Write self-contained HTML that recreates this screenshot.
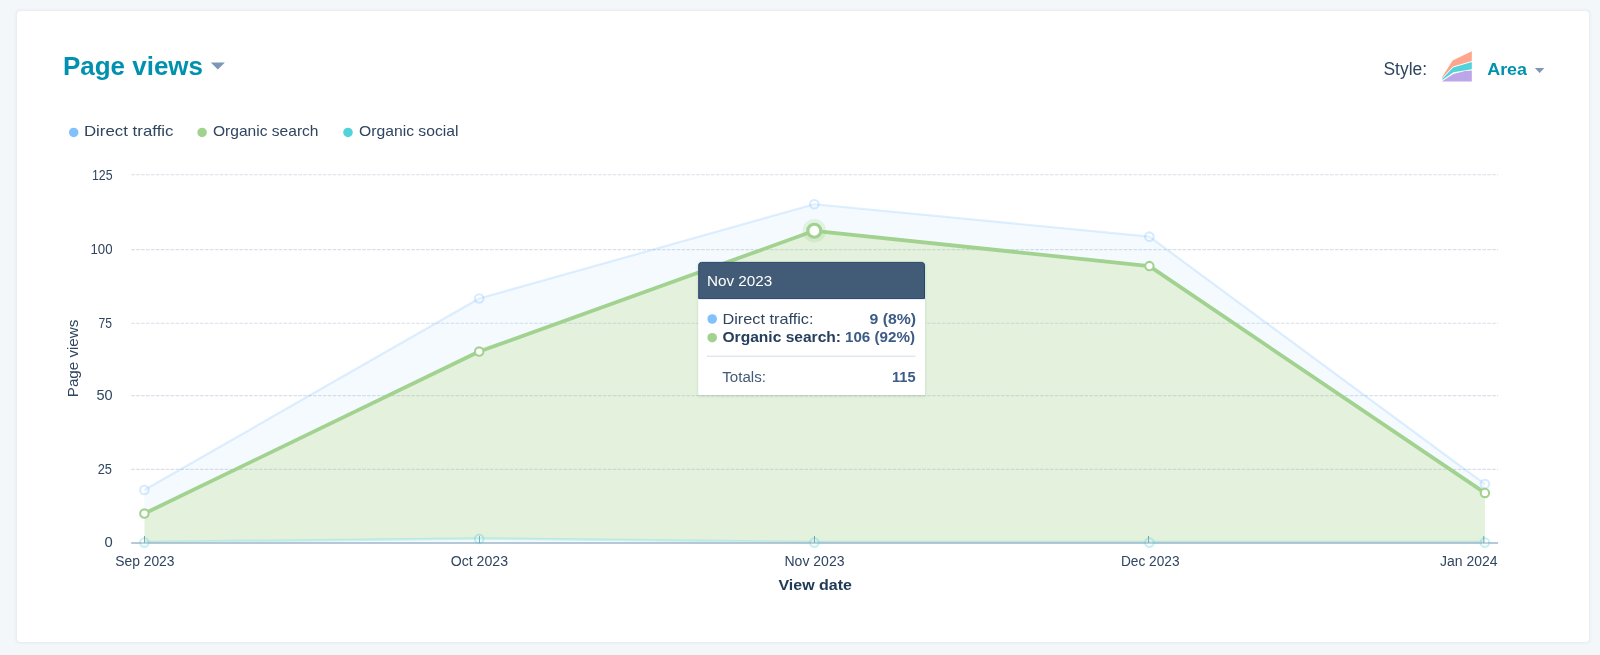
<!DOCTYPE html>
<html><head><meta charset="utf-8"><title>Page views</title>
<style>
html,body{margin:0;padding:0;width:1600px;height:655px;overflow:hidden;background:#f3f7fa;font-family:"Liberation Sans", sans-serif;}
.card{position:absolute;left:17px;top:10.5px;width:1572.2px;height:631.4px;background:#fff;border-radius:3.5px;box-shadow:0 0 3px 0.5px rgba(45,62,80,0.075);}
svg{position:absolute;left:0;top:0;will-change:transform;}
svg text{font-family:"Liberation Sans", sans-serif;}
</style></head><body>
<div class="card"></div>
<svg width="1600" height="655" viewBox="0 0 1600 655">
<defs><filter id="sh" x="-10%" y="-10%" width="120%" height="120%"><feDropShadow dx="0" dy="1" stdDeviation="1.6" flood-color="#2d3e50" flood-opacity="0.16"/></filter></defs>
<line x1="131.26" y1="174.8" x2="1498.1" y2="174.8" stroke="#d9e0e9" stroke-width="1.1" stroke-dasharray="3.63 1.283"/>
<line x1="131.26" y1="249.6" x2="1498.1" y2="249.6" stroke="#d9e0e9" stroke-width="1.1" stroke-dasharray="3.63 1.283"/>
<line x1="131.26" y1="323.2" x2="1498.1" y2="323.2" stroke="#d9e0e9" stroke-width="1.1" stroke-dasharray="3.63 1.283"/>
<line x1="131.26" y1="395.6" x2="1498.1" y2="395.6" stroke="#d9e0e9" stroke-width="1.1" stroke-dasharray="3.63 1.283"/>
<line x1="131.26" y1="469.4" x2="1498.1" y2="469.4" stroke="#d9e0e9" stroke-width="1.1" stroke-dasharray="3.63 1.283"/>
<polygon points="144.40,542.10 479.20,538.42 814.30,542.10 1149.40,542.10 1484.90,542.10 1484.90,543.00 1149.40,543.00 814.30,543.00 479.20,543.00 144.40,543.00" fill="#51d3d9" fill-opacity="0.081"/>
<polygon points="144.40,513.54 479.20,351.54 814.30,230.77 1149.40,266.11 1484.90,492.92 1484.90,542.10 1149.40,542.10 814.30,542.10 479.20,538.42 144.40,542.10" fill="#a2d28f" fill-opacity="0.3"/>
<polygon points="144.40,489.98 479.20,298.52 814.30,204.26 1149.40,236.66 1484.90,484.09 1484.90,492.92 1149.40,266.11 814.30,230.77 479.20,351.54 144.40,513.54" fill="#81c1fd" fill-opacity="0.081"/>
<polyline points="144.40,489.98 479.20,298.52 814.30,204.26 1149.40,236.66 1484.90,484.09" fill="none" stroke="#81c1fd" stroke-opacity="0.25" stroke-width="2.2" stroke-linejoin="round"/>
<polyline points="144.40,542.10 479.20,538.42 814.30,542.10 1149.40,542.10 1484.90,542.10" fill="none" stroke="#51d3d9" stroke-opacity="0.27" stroke-width="2.5" stroke-linejoin="round"/>
<polyline points="144.40,513.54 479.20,351.54 814.30,230.77 1149.40,266.11 1484.90,492.92" fill="none" stroke="#a2d28f" stroke-width="3.75" stroke-linejoin="round" stroke-linecap="round"/>
<line x1="131.2" y1="543.0" x2="1498.1" y2="543.0" stroke="#a2b5ca" stroke-width="1.3"/>
<line x1="144.50" y1="536.1" x2="144.50" y2="543" stroke="#7297b2" stroke-width="1"/>
<line x1="479.50" y1="536.1" x2="479.50" y2="543" stroke="#7297b2" stroke-width="1"/>
<line x1="814.50" y1="536.1" x2="814.50" y2="543" stroke="#7297b2" stroke-width="1"/>
<line x1="1148.50" y1="536.1" x2="1148.50" y2="543" stroke="#7297b2" stroke-width="1"/>
<line x1="1483.80" y1="536.1" x2="1483.80" y2="543" stroke="#7297b2" stroke-width="1"/>
<g opacity="0.32"><circle cx="144.40" cy="489.98" r="4.3" fill="#fff" fill-opacity="0.5" stroke="#81c1fd" stroke-width="2.1"/><circle cx="479.20" cy="298.52" r="4.3" fill="#fff" fill-opacity="0.5" stroke="#81c1fd" stroke-width="2.1"/><circle cx="814.30" cy="204.26" r="4.3" fill="#fff" fill-opacity="0.5" stroke="#81c1fd" stroke-width="2.1"/><circle cx="1149.40" cy="236.66" r="4.3" fill="#fff" fill-opacity="0.5" stroke="#81c1fd" stroke-width="2.1"/><circle cx="1484.90" cy="484.09" r="4.3" fill="#fff" fill-opacity="0.5" stroke="#81c1fd" stroke-width="2.1"/></g>
<g opacity="0.32"><circle cx="144.40" cy="542.60" r="4.3" fill="#fff" fill-opacity="0.5" stroke="#51d3d9" stroke-width="2.1"/><circle cx="479.20" cy="538.92" r="4.3" fill="#fff" fill-opacity="0.5" stroke="#51d3d9" stroke-width="2.1"/><circle cx="814.30" cy="542.60" r="4.3" fill="#fff" fill-opacity="0.5" stroke="#51d3d9" stroke-width="2.1"/><circle cx="1149.40" cy="542.60" r="4.3" fill="#fff" fill-opacity="0.5" stroke="#51d3d9" stroke-width="2.1"/><circle cx="1484.90" cy="542.60" r="4.3" fill="#fff" fill-opacity="0.5" stroke="#51d3d9" stroke-width="2.1"/></g>
<circle cx="144.40" cy="513.54" r="4.2" fill="#fff" stroke="#a2d28f" stroke-width="2.1"/>
<circle cx="479.20" cy="351.54" r="4.2" fill="#fff" stroke="#a2d28f" stroke-width="2.1"/>
<circle cx="814.30" cy="230.77" r="11.8" fill="#a2d28f" fill-opacity="0.25"/>
<circle cx="814.30" cy="230.77" r="6.5" fill="#fff" stroke="#a2d28f" stroke-width="3.2"/>
<circle cx="1149.40" cy="266.11" r="4.2" fill="#fff" stroke="#a2d28f" stroke-width="2.1"/>
<circle cx="1484.90" cy="492.92" r="4.2" fill="#fff" stroke="#a2d28f" stroke-width="2.1"/>
<text x="62.97" y="75.1" font-size="25" font-weight="bold" fill="#0091ae" textLength="140.05" lengthAdjust="spacingAndGlyphs">Page views</text>
<text x="1383.46" y="74.8" font-size="17.5" font-weight="normal" fill="#2f4560" textLength="43.60" lengthAdjust="spacingAndGlyphs">Style:</text>
<text x="1487.24" y="74.9" font-size="17.3" font-weight="bold" fill="#0091ae" textLength="39.76" lengthAdjust="spacingAndGlyphs">Area</text>
<text x="83.95" y="136.0" font-size="14.6" font-weight="normal" fill="#2f4560" textLength="89.58" lengthAdjust="spacingAndGlyphs">Direct traffic</text>
<text x="212.99" y="136.0" font-size="14.6" font-weight="normal" fill="#2f4560" textLength="105.54" lengthAdjust="spacingAndGlyphs">Organic search</text>
<text x="358.99" y="136.0" font-size="14.6" font-weight="normal" fill="#2f4560" textLength="99.53" lengthAdjust="spacingAndGlyphs">Organic social</text>
<text x="91.95" y="179.8" font-size="13.8" font-weight="normal" fill="#2f4560" textLength="20.60" lengthAdjust="spacingAndGlyphs">125</text>
<text x="90.46" y="253.9" font-size="13.8" font-weight="normal" fill="#2f4560" textLength="22.07" lengthAdjust="spacingAndGlyphs">100</text>
<text x="98.49" y="327.7" font-size="13.8" font-weight="normal" fill="#2f4560" textLength="13.51" lengthAdjust="spacingAndGlyphs">75</text>
<text x="96.40" y="399.9" font-size="13.8" font-weight="normal" fill="#2f4560" textLength="16.17" lengthAdjust="spacingAndGlyphs">50</text>
<text x="97.69" y="473.75" font-size="13.8" font-weight="normal" fill="#2f4560" textLength="14.31" lengthAdjust="spacingAndGlyphs">25</text>
<text x="104.41" y="546.9" font-size="13.8" font-weight="normal" fill="#2f4560" textLength="8.23" lengthAdjust="spacingAndGlyphs">0</text>
<text x="115.21" y="565.9" font-size="14" font-weight="normal" fill="#2f4560" textLength="59.32" lengthAdjust="spacingAndGlyphs">Sep 2023</text>
<text x="450.74" y="565.9" font-size="14" font-weight="normal" fill="#2f4560" textLength="57.26" lengthAdjust="spacingAndGlyphs">Oct 2023</text>
<text x="784.47" y="565.9" font-size="14" font-weight="normal" fill="#2f4560" textLength="60.05" lengthAdjust="spacingAndGlyphs">Nov 2023</text>
<text x="1120.98" y="565.9" font-size="14" font-weight="normal" fill="#2f4560" textLength="58.53" lengthAdjust="spacingAndGlyphs">Dec 2023</text>
<text x="1440.00" y="565.6" font-size="14" font-weight="normal" fill="#2f4560" textLength="57.51" lengthAdjust="spacingAndGlyphs">Jan 2024</text>
<text x="778.49" y="590.1" font-size="15.5" font-weight="bold" fill="#213a56" textLength="73.51" lengthAdjust="spacingAndGlyphs">View date</text>
<text transform="translate(78.0 397.22) rotate(-90)" x="0" y="0" font-size="15.2" font-weight="normal" fill="#2f4560" textLength="77.53" lengthAdjust="spacingAndGlyphs">Page views</text>
<circle cx="73.7" cy="132.4" r="4.75" fill="#81c1fd"/>
<circle cx="202.1" cy="132.4" r="4.75" fill="#a2d28f"/>
<circle cx="348" cy="132.4" r="4.75" fill="#51d3d9"/>
<polygon points="210.8,62.4 224.9,62.4 217.85,69.5" fill="#7c98b6"/>
<polygon points="1534.9,67.9 1544.3,67.9 1539.6,72.9" fill="#7c98b6"/>
<g transform="translate(1438 48)">
<polygon points="3.85,29.4 14.6,12.4 33.8,3.3 33.8,12.9 15.1,18.4 4.1,30" fill="#fea58e"/>
<polygon points="4.4,30.8 15.1,19.5 33.8,14.0 33.8,21.2 15.4,24.2 4.4,31.9" fill="#51d3d9"/>
<polygon points="4.1,33.2 15.4,25.9 27,23.1 33.8,22.6 33.8,33.6 4.1,33.6" fill="#bca6e8"/>
</g>
<g>
<path d="M698.2,394.9 L698.2,264.9 Q698.2,261.9 701.2,261.9 L922,261.9 Q925,261.9 925,264.9 L925,394.9 Z" fill="#fff" filter="url(#sh)"/>
<path d="M698.7,298.6 L698.7,265.1 Q698.7,262.4 701.4,262.4 L921.8,262.4 Q924.5,262.4 924.5,265.1 L924.5,298.6 Z" fill="#425b76" stroke="#27466c" stroke-width="1"/>
<text x="706.98" y="285.75" font-size="15.3" font-weight="normal" fill="#ffffff" textLength="65.28" lengthAdjust="spacingAndGlyphs">Nov 2023</text>
<circle cx="712.2" cy="319" r="4.8" fill="#81c1fd"/>
<circle cx="712.2" cy="337.7" r="4.8" fill="#a2d28f"/>
<text x="722.49" y="323.9" font-size="14.8" font-weight="normal" fill="#2f4560" textLength="91.05" lengthAdjust="spacingAndGlyphs">Direct traffic:</text>
<text x="869.47" y="323.6" font-size="14.5" font-weight="bold" fill="#3b5c84" textLength="46.55" lengthAdjust="spacingAndGlyphs">9 (8%)</text>
<text x="722.48" y="342.1" font-size="14.6" font-weight="bold" fill="#253f5c" textLength="118.55" lengthAdjust="spacingAndGlyphs">Organic search:</text>
<text x="844.98" y="341.9" font-size="14.5" font-weight="bold" fill="#3b5c84" textLength="70.04" lengthAdjust="spacingAndGlyphs">106 (92%)</text>
<line x1="707" y1="356.2" x2="915.6" y2="356.2" stroke="#d3dce6" stroke-width="1"/>
<text x="722.25" y="381.8" font-size="15.5" font-weight="normal" fill="#425b76" textLength="43.78" lengthAdjust="spacingAndGlyphs">Totals:</text>
<text x="891.95" y="381.6" font-size="15.0" font-weight="bold" fill="#3b5c84" textLength="23.58" lengthAdjust="spacingAndGlyphs">115</text>
</g>
</svg>
</body></html>
